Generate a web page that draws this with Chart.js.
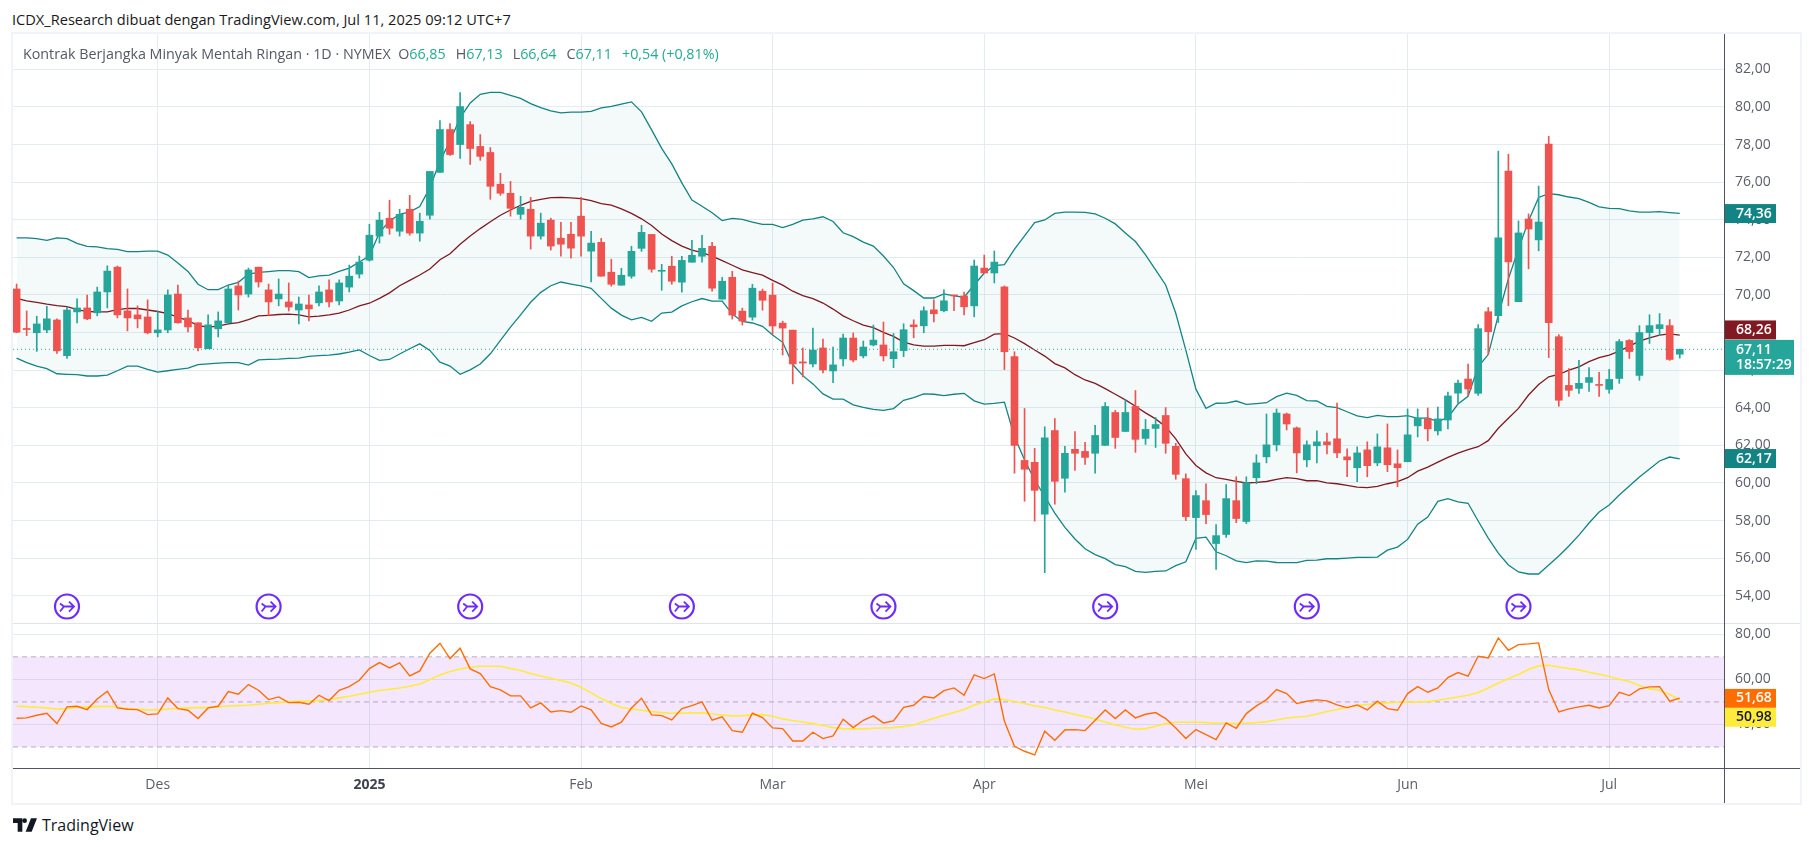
<!DOCTYPE html>
<html>
<head>
<meta charset="utf-8">
<title>Kontrak Berjangka Minyak Mentah Ringan</title>
<script src="https://cdn.jsdelivr.net/npm/chart.js@4/dist/chart.umd.min.js"></script>
<style>
  html, body { margin: 0; padding: 0; background: #fff; width: 1814px; height: 847px; overflow: hidden; }
  body { font-family: "Open Sans", sans-serif; position: relative; }
  canvas { position: absolute; left: 13px; }
  #title { position: absolute; left: 12px; top: 9px; font-size: 14.6px; color: #1a1a1a; line-height: 20px; white-space: nowrap; }
  #legend { position: absolute; left: 23px; top: 44px; font-size: 14.3px; line-height: 19px; color: #555965; white-space: nowrap; z-index: 5; }
  #legend b { font-weight: normal; color: #22ab94; margin-right: 10px; }
  #frame { position: absolute; left: 11px; top: 32px; width: 1787px; height: 769px; border: 2px solid #f0f3fa; z-index: 4; pointer-events: none; }
  #axisV { position: absolute; left: 1724px; top: 34px; width: 1px; height: 769px; background: #50535e; z-index: 4; }
  #axisH { position: absolute; left: 13px; top: 768px; width: 1787px; height: 1px; background: #50535e; z-index: 4; }
  #paneLine { position: absolute; left: 13px; top: 623px; width: 1787px; height: 1px; background: #e0e3eb; z-index: 4; }
  #brand { position: absolute; left: 13px; top: 817px; height: 16px; display: flex; align-items: center; font-size: 16px; color: #131722; }
  #brand svg { margin-right: 5px; }
</style>
</head>
<body>
<div id="title">ICDX_Research dibuat dengan TradingView.com, Jul 11, 2025 09:12 UTC+7</div>
<div id="legend">Kontrak Berjangka Minyak Mentah Ringan · 1D · NYMEX&nbsp;&nbsp;O<b>66,85</b>H<b>67,13</b>L<b>66,64</b>C<b>67,11</b><b>+0,54 (+0,81%)</b></div>
<div id="frame"></div>
<canvas id="price" width="1786" height="590" style="top:34px;width:1786px;height:590px"></canvas>
<canvas id="rsi" width="1786" height="179" style="top:624px;width:1786px;height:179px"></canvas>
<div id="paneLine"></div>
<div id="axisV"></div>
<div id="axisH"></div>
<div id="brand">
  <svg width="24" height="14" viewBox="0 0 36 20"><path fill="#131722" d="M0 0h14v20H7V7H0zM27 0h9l-8 20h-9zM21 3.5a3.5 3.5 0 1 1-7 0 3.5 3.5 0 0 1 7 0z"/></svg>
  TradingView
</div>
<script>
const opens = [
  70.32,68.22,67.99,68.14,68.67,66.77,69.1,69.31,69.05,70.16,
  71.48,69.15,68.94,68.83,67.99,68.14,70.05,68.78,68.52,67.14,
  68.2,68.52,70.48,70.05,71.48,70.27,69.79,69.63,69.2,69.47,
  69.58,70.27,69.68,70.42,71.11,71.85,73.13,74.08,73.39,74.56,
  73.29,74.24,76.52,78.8,78.0,79.06,77.9,77.58,75.89,75.41,
  74.29,74.56,73.13,73.98,73.02,73.23,74.19,72.33,72.8,71.21,
  70.52,71.0,72.48,73.22,71.26,71.53,70.68,71.74,72.06,72.59,
  69.78,70.94,69.14,68.82,70.2,69.99,68.5,68.13,66.44,66.33,
  67.18,65.96,66.6,67.71,66.76,67.34,67.34,66.61,67.04,68.41,
  68.36,69.21,69.16,70.0,69.95,69.42,71.43,71.17,70.43,66.72,
  61.2,61.1,58.34,62.79,60.25,61.79,61.68,61.58,62.0,63.75,
  62.74,64.07,62.37,62.9,63.59,61.95,60.23,58.16,59.06,56.78,
  57.26,59.06,57.95,60.28,61.39,62.03,63.67,62.93,61.23,61.98,
  62.19,62.35,61.39,60.81,61.76,61.07,61.87,61.02,61.13,63.04,
  63.41,62.77,63.35,64.78,65.53,64.77,69.11,68.9,76.59,69.64,
  74.04,72.93,78.02,67.78,65.19,65.03,65.35,65.24,64.98,65.56,
  67.58,65.72,68.0,68.21,68.37,66.85
];
const highs = [
  70.58,69.15,68.87,69.4,68.73,69.36,69.79,70.0,70.42,71.55,
  71.54,70.32,69.42,69.74,69.15,70.27,70.53,69.2,68.52,68.94,
  69.1,70.53,70.74,71.43,71.48,70.58,70.85,70.64,69.89,70.0,
  70.48,70.8,70.8,71.59,72.07,73.76,74.4,75.04,74.56,75.3,
  74.35,76.57,79.28,79.12,80.76,79.22,78.53,77.84,76.47,76.04,
  75.25,75.19,74.35,74.08,73.87,73.87,75.19,73.39,73.01,71.9,
  71.42,72.59,73.7,73.22,71.63,72.06,72.06,72.91,73.17,72.8,
  70.94,71.26,69.3,70.57,70.31,70.63,68.61,68.13,67.18,68.24,
  67.66,67.23,67.92,67.98,67.55,68.4,68.56,67.95,68.47,68.68,
  69.37,69.74,70.27,70.0,70.16,71.86,72.12,72.34,70.48,66.98,
  63.96,61.84,62.99,63.43,61.95,62.74,62.16,63.06,64.28,63.86,
  64.44,64.92,63.38,63.48,64.01,62.11,60.49,59.59,59.96,57.79,
  59.91,60.33,60.33,61.5,63.67,63.94,63.72,62.98,62.24,62.77,
  62.66,64.25,61.82,61.92,62.19,62.61,63.14,61.76,63.94,63.94,
  63.99,64.04,64.84,65.47,66.32,68.42,69.33,77.65,77.49,73.94,
  74.31,75.79,78.44,67.89,66.09,66.52,66.14,65.88,66.04,67.63,
  67.63,68.37,68.95,69.01,68.69,67.13
];
const lows = [
  67.99,67.84,67.0,67.99,66.89,66.63,68.52,68.69,68.89,69.31,
  68.78,68.09,68.25,67.93,67.77,67.99,68.5,68.04,67.03,67.14,
  67.77,68.52,69.2,69.89,70.42,68.89,69.42,69.15,68.46,68.62,
  69.42,69.36,69.47,70.16,70.9,71.8,72.76,73.23,73.13,73.18,
  72.86,74.03,76.52,77.42,77.26,76.94,77.16,75.09,75.3,74.19,
  74.03,72.44,72.97,72.39,72.07,71.96,72.07,70.69,71.0,70.47,
  70.52,70.89,72.32,71.21,70.25,70.57,70.15,71.74,71.74,70.2,
  69.78,68.72,68.4,68.66,69.19,67.92,66.81,65.27,65.64,66.17,
  65.86,65.33,66.23,66.44,66.65,67.29,66.49,66.13,66.72,67.72,
  67.99,68.57,69.1,69.16,68.94,68.84,71.17,70.64,66.03,60.52,
  59.03,57.97,55.23,58.87,59.51,60.67,60.99,60.52,62.0,61.84,
  62.74,61.63,62.05,61.89,61.58,60.2,58.0,56.46,57.84,55.4,
  57.1,57.89,57.84,59.96,61.07,61.71,62.82,60.54,60.86,61.07,
  61.55,61.34,60.33,60.07,60.33,60.92,60.6,59.8,61.13,62.45,
  62.24,62.56,62.88,64.25,64.63,64.66,66.83,68.53,69.43,69.64,
  71.39,72.35,66.67,64.08,64.61,64.77,64.87,64.61,64.77,65.3,
  66.62,65.46,67.42,67.84,66.52,66.64
];
const closes = [
  68.02,68.16,68.46,68.73,67.03,69.2,69.31,68.73,70.16,71.27,
  68.94,68.78,68.73,67.99,68.14,70.0,68.52,68.3,67.19,68.41,
  68.62,70.32,70.0,71.33,70.69,69.63,70.05,69.36,69.52,69.26,
  70.16,69.63,70.64,71.0,71.75,73.18,73.98,73.55,74.29,73.29,
  73.92,76.57,78.8,77.47,80.02,77.79,77.37,75.78,75.41,74.61,
  74.66,73.13,73.82,72.6,72.7,72.49,73.13,72.76,71.0,70.57,
  71.05,72.32,73.33,71.37,71.31,70.73,71.84,72.11,72.48,70.36,
  70.73,68.93,68.61,70.36,69.72,68.35,68.24,66.33,66.38,67.07,
  66.01,66.28,67.71,66.54,67.23,67.6,66.76,66.98,68.15,68.31,
  69.16,69.0,69.69,69.95,69.37,71.54,71.17,71.75,66.98,62.0,
  60.73,59.61,62.4,60.09,61.58,61.58,61.36,62.53,64.07,62.42,
  63.75,62.32,62.85,63.11,62.11,60.46,58.21,59.33,58.32,57.2,
  59.17,58.11,60.01,61.07,62.03,63.72,63.14,61.6,62.03,62.19,
  62.03,61.6,61.23,61.6,60.92,61.92,60.97,60.81,62.56,63.46,
  62.88,63.41,64.63,65.31,65.0,68.21,68.05,73.04,71.76,73.3,
  73.51,73.88,68.53,64.4,64.93,65.3,65.61,65.19,65.51,67.52,
  66.99,68.0,68.37,68.42,66.57,67.11
];
const bbUpper = [
  73.04,73.04,73.0,72.9,73.04,73.0,72.74,72.58,72.56,72.47,
  72.42,72.31,72.31,72.33,72.33,72.12,71.7,71.25,70.57,70.28,
  70.28,70.53,70.67,71.11,71.2,71.24,71.29,71.29,71.24,70.92,
  71.02,71.06,71.25,71.43,71.75,72.08,73.32,73.94,74.29,74.42,
  74.7,75.71,77.12,78.18,79.42,80.21,80.67,80.78,80.78,80.62,
  80.46,80.18,79.96,79.79,79.68,79.72,79.73,79.77,79.95,80.03,
  80.15,80.27,79.74,78.78,77.8,76.97,75.96,75.05,74.72,74.37,
  73.96,74.07,74.02,73.88,73.75,73.75,73.58,73.75,73.98,74.05,
  74.16,73.91,73.31,73.1,72.81,72.6,72.07,71.46,70.59,70.23,
  69.84,69.84,70.06,69.95,69.88,70.53,71.17,71.56,71.61,72.44,
  73.14,73.85,73.99,74.34,74.41,74.41,74.39,74.31,74.08,73.78,
  73.3,72.84,72.13,71.33,70.53,69.03,67.07,64.99,63.97,64.24,
  64.25,64.36,64.18,64.22,64.27,64.59,64.78,64.66,64.38,64.36,
  64.08,64.01,63.79,63.57,63.48,63.6,63.53,63.53,63.58,63.44,
  63.46,63.27,63.49,64.2,64.61,66.18,66.83,68.92,70.86,72.45,
  73.95,75.19,75.39,75.33,75.21,75.12,74.92,74.69,74.61,74.59,
  74.47,74.41,74.41,74.43,74.38,74.34
];
const bbBasis = [
  69.82,69.68,69.61,69.51,69.43,69.38,69.22,69.12,69.1,69.1,
  69.22,69.29,69.28,69.2,69.12,69.01,68.82,68.64,68.37,68.29,
  68.34,68.46,68.53,68.69,68.89,68.92,68.96,68.98,68.94,68.83,
  68.87,68.94,69.03,69.2,69.42,69.56,69.82,70.11,70.49,70.78,
  71.06,71.38,71.87,72.19,72.7,73.14,73.53,73.89,74.24,74.52,
  74.77,74.98,75.09,75.18,75.19,75.16,75.12,75.02,74.86,74.78,
  74.58,74.34,74.05,73.7,73.24,72.89,72.6,72.39,72.25,72.07,
  71.83,71.58,71.33,71.19,71.05,70.78,70.52,70.2,69.97,69.81,
  69.57,69.25,68.89,68.63,68.4,68.26,68.01,67.8,67.49,67.34,
  67.28,67.28,67.32,67.32,67.3,67.46,67.62,67.92,67.94,67.71,
  67.41,67.07,66.75,66.35,66.12,65.76,65.48,65.3,65.02,64.72,
  64.42,64.08,63.73,63.41,62.99,62.35,61.55,60.93,60.54,60.28,
  60.19,60.08,60.0,60.03,60.08,60.19,60.28,60.23,60.12,60.12,
  60.01,59.96,59.87,59.78,59.75,59.82,59.96,60.07,60.28,60.63,
  60.84,61.11,61.36,61.59,61.78,61.93,62.25,62.91,63.44,63.97,
  64.68,65.24,65.65,65.77,66.0,66.18,66.45,66.67,66.8,67.01,
  67.28,67.54,67.72,67.86,67.93,67.86
];
const bbLower = [
  66.64,66.4,66.22,66.08,65.81,65.78,65.76,65.69,65.69,65.74,
  65.97,66.22,66.22,66.04,65.9,65.97,66.04,66.11,66.29,66.34,
  66.38,66.4,66.4,66.27,66.55,66.57,66.59,66.63,66.64,66.73,
  66.77,66.8,66.86,66.96,67.08,66.78,66.52,66.57,66.86,67.14,
  67.4,67.05,66.43,66.22,65.78,66.02,66.33,66.87,67.58,68.29,
  68.94,69.61,70.14,70.49,70.69,70.58,70.48,70.35,69.82,69.3,
  68.93,68.68,68.81,68.6,69.04,69.09,69.42,69.64,69.81,69.67,
  69.67,68.98,68.59,68.51,68.33,67.87,67.48,66.3,65.71,65.27,
  64.74,64.46,64.46,64.16,64.02,63.91,63.86,63.96,64.4,64.54,
  64.74,64.72,64.65,64.72,64.77,64.37,64.19,64.23,64.3,62.46,
  61.22,60.16,59.28,58.4,57.64,57.02,56.5,56.19,55.98,55.66,
  55.55,55.3,55.25,55.3,55.32,55.6,55.81,57.05,57.12,56.34,
  56.13,55.86,55.76,55.86,55.84,55.77,55.76,55.76,55.88,55.9,
  55.97,55.97,56.0,56.04,56.04,56.06,56.43,56.59,57.0,57.81,
  58.19,59.02,59.17,59.0,58.92,57.98,57.07,56.27,55.64,55.27,
  55.16,55.16,55.64,56.12,56.65,57.23,57.87,58.46,58.83,59.36,
  59.84,60.32,60.74,61.17,61.38,61.28
];
const rsiValues = [
  42.75,42.9,44.08,44.97,40.38,47.78,48.08,46.6,51.33,54.73,
  47.34,46.75,46.6,44.38,44.67,51.78,47.04,46.3,42.6,47.34,
  48.08,54.59,53.4,57.69,55.18,51.04,52.22,49.7,49.85,48.96,
  52.96,50.59,55.18,56.8,59.62,64.79,67.46,65.09,67.31,61.54,
  63.76,71.6,76.04,69.23,73.82,64.64,62.57,56.8,55.33,52.66,
  52.66,47.34,49.56,45.56,46.15,45.41,48.22,46.45,40.5,38.91,
  40.98,47.34,51.63,44.23,43.93,42.01,47.04,48.37,50.0,41.86,
  43.34,37.28,36.54,44.97,43.05,38.46,38.17,32.69,32.69,36.54,
  33.73,34.91,42.31,38.61,41.86,43.79,40.68,41.57,47.63,48.52,
  52.37,51.78,55.03,56.21,52.96,61.98,60.36,62.43,41.42,30.33,
  28.11,26.48,36.98,32.99,37.57,37.72,37.28,41.86,46.45,42.6,
  46.45,42.9,44.53,45.27,42.6,38.46,33.73,37.72,35.5,33.28,
  40.68,38.31,44.82,48.22,51.04,55.47,53.7,49.26,50.3,50.89,
  50.44,48.67,47.49,48.67,46.45,50.3,47.04,46.3,53.7,56.8,
  54.29,56.21,60.8,63.02,61.39,70.27,69.53,78.4,72.93,75.44,
  75.74,76.18,55.47,45.56,46.89,47.78,48.52,47.34,48.37,54.29,
  52.81,55.77,56.66,56.8,50.3,51.68
];
const rsiMa = [
  48.08,47.93,47.63,47.34,46.89,47.04,47.63,47.78,47.93,48.08,
  47.63,47.04,46.75,46.45,46.45,46.89,47.19,47.34,47.49,47.49,
  47.78,48.22,48.37,48.52,48.96,49.41,49.7,50.15,50.3,50.44,
  50.59,51.04,51.78,52.51,53.4,54.29,55.03,55.62,56.21,56.95,
  57.99,59.91,61.98,63.46,64.64,65.38,65.83,65.83,65.83,64.79,
  63.91,62.57,61.54,60.5,59.47,58.43,56.51,53.99,51.48,49.26,
  47.49,46.89,46.3,45.71,45.27,44.97,44.97,45.12,45.12,44.67,
  44.23,43.79,43.93,44.23,44.38,43.64,42.46,41.72,41.12,40.38,
  39.5,38.61,38.17,38.02,38.02,38.31,38.46,38.61,39.05,39.79,
  41.27,42.75,44.08,45.27,46.6,48.67,50.0,51.33,51.04,50.15,
  49.26,48.22,47.49,46.45,45.56,44.38,43.49,42.46,41.12,39.79,
  38.76,37.87,38.17,39.2,40.38,40.98,40.98,41.12,40.83,40.53,
  40.53,40.38,40.53,40.83,41.27,42.01,42.9,43.34,43.64,44.67,
  45.71,46.6,47.49,48.37,48.82,49.26,49.56,49.85,49.85,50.0,
  50.15,50.74,51.48,52.22,52.96,54.14,56.21,58.43,60.36,62.13,
  64.35,65.98,66.27,65.53,64.79,64.2,63.17,62.28,61.24,60.06,
  59.02,57.25,55.77,55.18,53.25,50.98
];

const priceTicks = [54,56,58,60,62,64,66,68,70,72,74,76,78,80,82];
const rsiTicks = [30,40,50,60,70,80];
const rsiTickLabels = ["",  "40,00", "", "60,00", "", "80,00"];
const monthIdx = [14,35,56,75,96,117,138,158];
const monthLabels = ["Des","2025","Feb","Mar","Apr","Mei","Jun","Jul"];
const eventIdx = [5,25,45,66,86,108,128,149];
const lastPrice = 67.11;

const UP = "#26a69a", DOWN = "#ef5350", GRID = "#e4ecf2", TEXT = "#5b5e69";
const XMIN = -0.357, XMAX = 169.39;
const FONT = '"Open Sans", sans-serif';
const xy = arr => arr.map((v, i) => ({ x: i, y: v }));
const comma = v => v.toFixed(2).replace(".", ",");

function noPadding(s) {
  s.paddingTop = s.paddingBottom = s.paddingLeft = s.paddingRight = 0;
}

function xAxis(showLabels) {
  return {
    type: "linear", min: XMIN, max: XMAX, offset: false,
    afterBuildTicks: s => { s.ticks = monthIdx.map(v => ({ value: v })); },
    afterFit: s => { s.height = showLabels ? 34.5 : 0; noPadding(s); },
    grid: { color: GRID, drawTicks: false, offset: false },
    border: { display: false },
    ticks: {
      display: showLabels, autoSkip: false, maxRotation: 0, padding: 8,
      color: c => c.tick && c.tick.value === 35 ? "#3f424d" : TEXT,
      font: c => ({ family: FONT, size: 14, weight: c.tick && c.tick.value === 35 ? "bold" : "normal" }),
      callback: v => monthLabels[monthIdx.indexOf(v)]
    }
  };
}

function yAxis(min, max, tickList, label) {
  return {
    position: "right", min, max,
    afterBuildTicks: s => { s.ticks = tickList.map(v => ({ value: v })); },
    afterFit: s => { s.width = 75; noPadding(s); },
    grid: { color: c => c.tick && label && c.tick.value % 20 === 10 ? "rgba(0,0,0,0)" : GRID, drawTicks: false },
    border: { display: false },
    ticks: { color: TEXT, padding: 11, autoSkip: false, font: { family: FONT, size: 14 }, callback: label || (v => comma(v)) }
  };
}

// price tags on the right axis, painted over the tick labels
function tag(ctx, x, y, w, h, bg, fg, lines) {
  ctx.fillStyle = bg;
  ctx.fillRect(x, y - h / 2, w, h);
  ctx.fillStyle = fg;
  ctx.font = "600 14px " + FONT;
  ctx.textAlign = "left";
  ctx.textBaseline = "middle";
  lines.forEach((t, i) => ctx.fillText(t, x + 11, y + (i - (lines.length - 1) / 2) * 15.5));
}

const priceOverlay = {
  id: "priceOverlay",
  afterDraw(chart) {
    const { ctx, scales: { x, y }, chartArea } = chart;
    ctx.save();
    // event marks
    eventIdx.forEach(i => {
      const cx = x.getPixelForValue(i), cy = y.getPixelForValue(53.43);
      ctx.strokeStyle = "#6f2bff";
      ctx.fillStyle = "#fff";
      ctx.lineWidth = 2.2;
      ctx.beginPath(); ctx.arc(cx, cy, 12, 0, Math.PI * 2); ctx.fill(); ctx.stroke();
      ctx.lineWidth = 1.8;
      ctx.beginPath();
      ctx.moveTo(cx - 7, cy - 3); ctx.lineTo(cx - 3, cy); ctx.lineTo(cx + 6, cy);
      ctx.moveTo(cx + 2, cy - 5); ctx.lineTo(cx + 7, cy); ctx.lineTo(cx + 2, cy + 5);
      ctx.moveTo(cx - 3, cy); ctx.lineTo(cx - 7, cy + 5);
      ctx.stroke();
    });
    const ax = chartArea.right;
    tag(ctx, ax + 1, y.getPixelForValue(74.33), 51, 19, "#138484", "#fff", ["74,36"]);
    tag(ctx, ax + 1, y.getPixelForValue(61.3), 51, 19, "#138484", "#fff", ["62,17"]);
    tag(ctx, ax + 1, y.getPixelForValue(68.14), 51, 19, "#801922", "#fff", ["68,26"]);
    tag(ctx, ax + 1, y.getPixelForValue(66.68), 69, 35, UP, "#fff", ["67,11", "18:57:29"]);
    ctx.restore();
  }
};

const rsiOverlay = {
  id: "rsiOverlay",
  afterDraw(chart) {
    const { ctx, scales: { y }, chartArea } = chart;
    ctx.save();
    tag(ctx, chartArea.right + 1, y.getPixelForValue(51.56), 51, 19, "#ff6d00", "#fff", ["51,68"]);
    tag(ctx, chartArea.right + 1, y.getPixelForValue(43.18), 51, 19, "#ffeb3b", "#131722", ["50,98"]);
    ctx.restore();
  }
};

const lineBase = { type: "line", pointRadius: 0, tension: 0, borderWidth: 1.3, fill: false };

new Chart(document.getElementById("price"), {
  data: {
    datasets: [
      { ...lineBase, label: "BB atas", data: xy(bbUpper), borderColor: "#138484", order: 6,
        fill: { target: "+1" }, backgroundColor: "rgba(34,171,148,0.055)" },
      { ...lineBase, label: "BB bawah", data: xy(bbLower), borderColor: "#138484", order: 6 },
      { ...lineBase, label: "BB basis", data: xy(bbBasis), borderColor: "#801922", order: 5 },
      { ...lineBase, label: "Harga", data: [{ x: XMIN, y: lastPrice }, { x: XMAX, y: lastPrice }],
        borderColor: UP, borderWidth: 1, borderDash: [1, 3], order: 4 },
      { type: "bar", label: "Sumbu", grouped: false, barThickness: 1, order: 3,
        data: highs.map((h, i) => ({ x: i, y: [lows[i], h] })),
        backgroundColor: closes.map((c, i) => c >= opens[i] ? UP : DOWN) },
      { type: "bar", label: "Badan", grouped: false, barThickness: 7, order: 2, minBarLength: 1,
        data: opens.map((o, i) => ({ x: i, y: [o, closes[i]] })),
        backgroundColor: closes.map((c, i) => c >= opens[i] ? UP : DOWN) }
    ]
  },
  options: {
    responsive: false, animation: false,
    layout: { padding: 0 },
    plugins: { legend: { display: false }, tooltip: { enabled: false } },
    scales: { x: xAxis(false), y: yAxis(52.5, 83.88, priceTicks) }
  },
  plugins: [priceOverlay]
});

new Chart(document.getElementById("rsi"), {
  data: {
    datasets: [
      { ...lineBase, label: "RSI", data: xy(rsiValues), borderColor: "#ff6d00", borderWidth: 1.4, order: 1 },
      { ...lineBase, label: "RSI MA", data: xy(rsiMa), borderColor: "#ffeb3b", borderWidth: 1.6, order: 2 },
      { ...lineBase, label: "70", data: [{ x: XMIN, y: 70 }, { x: XMAX, y: 70 }], borderColor: "#b8b3bd", borderWidth: 1,
        borderDash: [5, 4], order: 3, fill: { target: { value: 30 } }, backgroundColor: "rgba(180,80,240,0.14)" },
      { ...lineBase, label: "50", data: [{ x: XMIN, y: 50 }, { x: XMAX, y: 50 }], borderColor: "#b8b3bd", borderWidth: 1,
        borderDash: [5, 4], order: 3 },
      { ...lineBase, label: "30", data: [{ x: XMIN, y: 30 }, { x: XMAX, y: 30 }], borderColor: "#b8b3bd", borderWidth: 1,
        borderDash: [5, 4], order: 3 }
    ]
  },
  options: {
    responsive: false, animation: false,
    layout: { padding: 0 },
    plugins: { legend: { display: false }, tooltip: { enabled: false } },
    scales: { x: xAxis(true), y: yAxis(20.46, 84.57, rsiTicks, v => rsiTickLabels[rsiTicks.indexOf(v)]) }
  },
  plugins: [rsiOverlay]
});
</script>
</body>
</html>
